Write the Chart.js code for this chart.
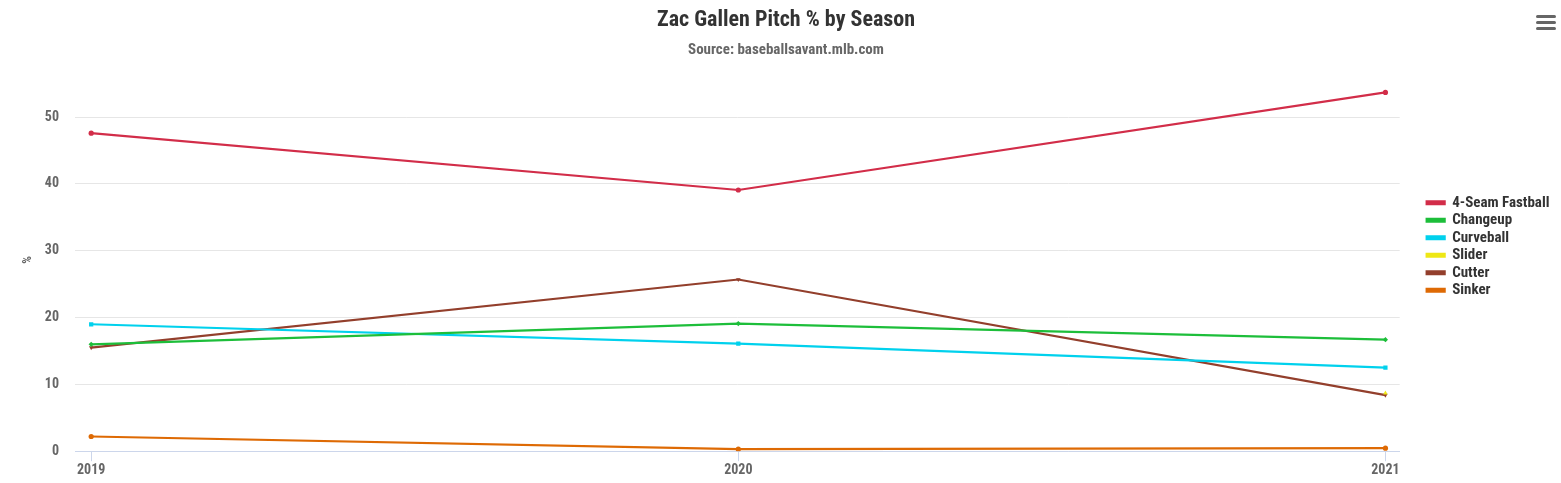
<!DOCTYPE html>
<html>
<head>
<meta charset="utf-8">
<script src="https://cdn.jsdelivr.net/npm/chart.js@4"></script>
<style>
  html, body { margin: 0; padding: 0; background: #fff; }
  #wrap { width: 1561px; height: 483px; }
</style>
</head>
<body>
<div id="wrap"><canvas id="myChart"></canvas></div>
<script>
'use strict';

const seasons = [2019, 2020, 2021];
const fourSeam = [47.6, 39.1, 53.7];
const changeup = [16.0, 19.1, 16.7];
const curveball = [19.0, 16.1, 12.5];
const slider = [null, null, 8.7];
const cutter = [15.5, 25.7, 8.4];
const sinker = [2.2, 0.3, 0.45];
const yTicks = [0, 10, 20, 30, 40, 50];

const FONT = "'Roboto Condensed', 'Liberation Sans Narrow', Roboto, sans-serif";
const TITLE = 'Zac Gallen Pitch % by Season';
const SUBTITLE = 'Source: baseballsavant.mlb.com';

function toPoints(values) {
  return seasons.map((s, i) => ({ x: s, y: values[i] }));
}

function series(label, values, color, style, rotation) {
  return {
    label: label,
    data: toPoints(values),
    borderColor: color,
    backgroundColor: color,
    borderWidth: 2.2,
    pointStyle: style,
    pointRotation: rotation || 0,
    pointRadius: style === 'rect' ? 3 : 2.6,
    pointBorderWidth: 0,
    tension: 0,
    spanGaps: false
  };
}

// legend sits a bit away from the plot, titles centred a bit further right
const layoutTweak = {
  id: 'layoutTweak',
  afterLayout(chart) {
    const lg = chart.legend;
    lg.left += 24.5;
    lg.right += 24.5;
    lg.top += 3;
    lg.bottom += 3;
    chart.boxes.forEach(b => {
      if (b.options && (b.options.text === TITLE || b.options.text === SUBTITLE)) {
        b.left += 18;
        b.right += 18;
      }
    });
  }
};

// the little export menu icon in the top right corner
const menuIcon = {
  id: 'menuIcon',
  afterDraw(chart) {
    const c = chart.ctx;
    c.save();
    c.fillStyle = '#666';
    [15, 21, 27].forEach(y => {
      c.beginPath();
      c.roundRect(1536, y, 20, 3, 1.5);
      c.fill();
    });
    c.restore();
  }
};

const ctx = document.getElementById('myChart').getContext('2d');

const myChart = new Chart(ctx, {
  type: 'line',
  data: {
    datasets: [
      series('4-Seam Fastball', fourSeam, '#d22d49', 'circle'),
      series('Changeup', changeup, '#1dbe3a', 'rectRot'),
      series('Curveball', curveball, '#00d1ed', 'rect'),
      series('Slider', slider, '#eee716', 'triangle'),
      series('Cutter', cutter, '#933f2c', 'triangle', 180),
      series('Sinker', sinker, '#de6a04', 'circle')
    ]
  },
  options: {
    responsive: true,
    maintainAspectRatio: false,
    animation: false,
    layout: { padding: { top: 7, right: 26, left: 1, bottom: 3 } },
    plugins: {
      title: {
        display: true,
        text: TITLE,
        color: '#333',
        font: { family: FONT, size: 22, weight: 'bold' },
        padding: { top: 0, bottom: 8 }
      },
      subtitle: {
        display: true,
        text: SUBTITLE,
        color: '#666',
        font: { family: FONT, size: 15, weight: 'bold' },
        padding: { top: 0, bottom: 9 }
      },
      legend: {
        position: 'right',
        align: 'center',
        labels: {
          color: '#333',
          font: { family: FONT, size: 15, weight: 'bold' },
          boxWidth: 18,
          boxHeight: 3,
          padding: 2.5
        }
      },
      tooltip: { enabled: false }
    },
    scales: {
      x: {
        type: 'linear',
        min: 2018.975,
        max: 2021.022,
        afterBuildTicks(axis) {
          axis.ticks = seasons.map(v => ({ value: v }));
        },
        grid: { drawOnChartArea: false, drawTicks: true, tickLength: 10, color: '#ccd6eb' },
        border: { color: '#ccd6eb' },
        ticks: {
          color: '#666',
          font: { family: FONT, size: 14, weight: 'bold' },
          padding: 1,
          maxRotation: 0,
          callback: v => String(v)
        }
      },
      y: {
        min: 0,
        max: 57.3,
        afterBuildTicks(axis) {
          axis.ticks = yTicks.map(v => ({ value: v }));
        },
        afterFit(axis) {
          axis.width = 74;
        },
        grid: { color: '#e6e6e6', drawTicks: false },
        border: { display: false },
        ticks: {
          color: '#666',
          font: { family: FONT, size: 14, weight: 'bold' },
          padding: 16
        },
        title: {
          display: true,
          text: '%',
          color: '#666',
          font: { family: FONT, size: 12, weight: 'bold' },
          padding: { top: 20, bottom: 7 }
        }
      }
    }
  },
  plugins: [layoutTweak, menuIcon]
});
</script>
</body>
</html>
